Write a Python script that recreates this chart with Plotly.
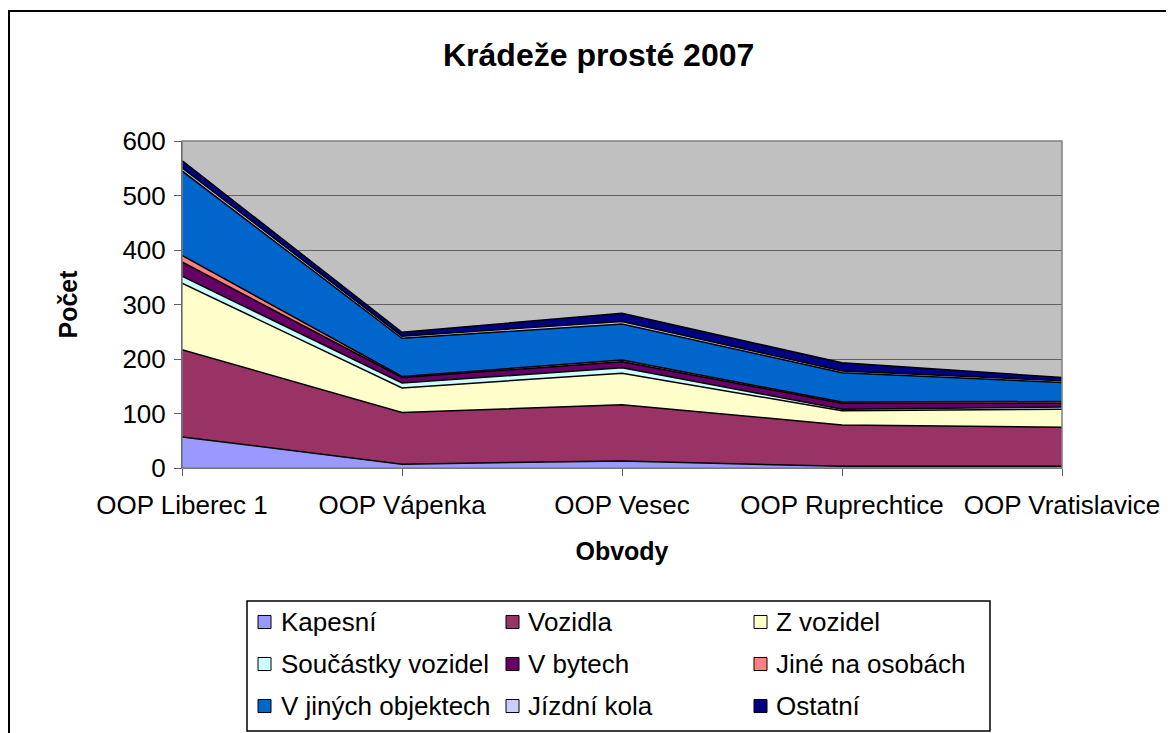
import plotly.graph_objects as go

# =====================================
# DATA
# =====================================

obvody = [
    "OOP Liberec 1",
    "OOP Vápenka",
    "OOP Vesec",
    "OOP Ruprechtice",
    "OOP Vratislavice"
]

kapesni = [57, 7, 13, 3, 3]
vozidla = [160, 95, 103, 76, 72]
z_vozidel = [122, 45, 58, 26, 33]
soucastky = [13, 9, 10, 3, 4]
v_bytech = [26, 10, 11, 11, 7]
jine_na_osobach = [12, 2, 3, 2, 3]
v_jinych_objektech = [155, 70, 66, 54, 35]
jizdni_kola = [6, 4, 5, 3, 3]
ostatni = [13, 7, 15, 15, 6]

series = [
    ("Kapesní", kapesni, "#9999FF"),
    ("Vozidla", vozidla, "#993366"),
    ("Z vozidel", z_vozidel, "#FFFFCC"),
    ("Součástky vozidel", soucastky, "#CCFFFF"),
    ("V bytech", v_bytech, "#660066"),
    ("Jiné na osobách", jine_na_osobach, "#FF8080"),
    ("V jiných objektech", v_jinych_objektech, "#0066CC"),
    ("Jízdní kola", jizdni_kola, "#CCCCFF"),
    ("Ostatní", ostatni, "#000080"),
]

FONT = "Liberation Sans, Arial, sans-serif"

# the page body has an 8px margin, so the figure is a bit smaller
OFF = 8
W, H = 1174 - OFF, 733 - OFF
PL, PR, PT, PB = 182, 1062, 141, 468


def px_x(px):
    return (px - PL) / (PR - PL)


def px_y(py):
    return (PB - py) / (PB - PT)


# =====================================
# STACKED AREA
# =====================================

fig = go.Figure()

for name, values, color in series:

    fig.add_trace(
        go.Scatter(
            x=obvody,
            y=values,
            name=name,
            mode="lines",
            stackgroup="one",
            fillcolor=color,
            line=dict(color="black", width=1.5),
            showlegend=False
        )
    )

fig.update_layout(
    width=W,
    height=H,
    margin=dict(
        l=PL - OFF,
        r=1174 - PR,
        t=PT - OFF,
        b=733 - PB
    ),
    paper_bgcolor="white",
    plot_bgcolor="#C0C0C0",
    font=dict(family=FONT, size=26, color="black"),
    showlegend=False
)

fig.update_xaxes(
    type="category",
    range=[0, len(obvody) - 1],
    showgrid=False,
    showline=True,
    linecolor="#606060",
    linewidth=1,
    ticks="outside",
    ticklen=7,
    tickcolor="#606060",
    ticklabelstandoff=7,
    tickfont=dict(size=26),
    title=dict(
        text="<b>Obvody</b>",
        font=dict(size=25),
        standoff=23
    )
)

fig.update_yaxes(
    range=[0, 600],
    dtick=100,
    showgrid=True,
    gridcolor="#606060",
    gridwidth=1,
    zeroline=False,
    showline=True,
    linecolor="#303030",
    linewidth=1,
    ticks="outside",
    ticklen=7,
    tickcolor="#606060",
    ticklabelstandoff=3,
    tickfont=dict(size=26),
    title=dict(text=None)
)

# =====================================
# TITLES
# =====================================

annotations = [
    dict(
        text="<b>Krádeže prosté 2007</b>",
        x=px_x(598), y=px_y(55),
        font=dict(size=32)
    ),
    dict(
        text="<b>Počet</b>",
        x=px_x(51), y=0.5,
        textangle=-90,
        font=dict(size=25)
    ),
]

shapes = [
    # outer chart border
    dict(
        type="rect",
        x0=px_x(9), x1=px_x(1200),
        y0=px_y(780), y1=px_y(11),
        line=dict(color="black", width=2),
        layer="below"
    ),
    # plot area border
    dict(
        type="rect",
        x0=0, x1=1, y0=0, y1=1,
        line=dict(color="#808080", width=1.5)
    ),
    # legend box
    dict(
        type="rect",
        x0=px_x(247), x1=px_x(990),
        y0=px_y(731), y1=px_y(601),
        line=dict(color="black", width=1.5)
    ),
]

# =====================================
# LEGEND (3 columns x 3 rows)
# =====================================

col_swatch = [258, 506, 754]
col_text = [279, 526, 774]
row_y = [622, 664, 706]

for i, (name, values, color) in enumerate(series):

    row = i // 3
    col = i % 3
    cy = row_y[row]
    sx = col_swatch[col]

    shapes.append(
        dict(
            type="rect",
            x0=px_x(sx), x1=px_x(sx + 13),
            y0=px_y(cy + 6.5), y1=px_y(cy - 6.5),
            fillcolor=color,
            line=dict(color="black", width=1)
        )
    )

    annotations.append(
        dict(
            text=name,
            x=px_x(col_text[col]), y=px_y(cy),
            xanchor="left",
            font=dict(size=26)
        )
    )

for a in annotations:
    a.setdefault("xref", "paper")
    a.setdefault("yref", "paper")
    a.setdefault("showarrow", False)
    a.setdefault("yanchor", "middle")

for s in shapes:
    s["xref"] = "paper"
    s["yref"] = "paper"

fig.update_layout(
    annotations=annotations,
    shapes=shapes
)

fig.write_html("out.html")
